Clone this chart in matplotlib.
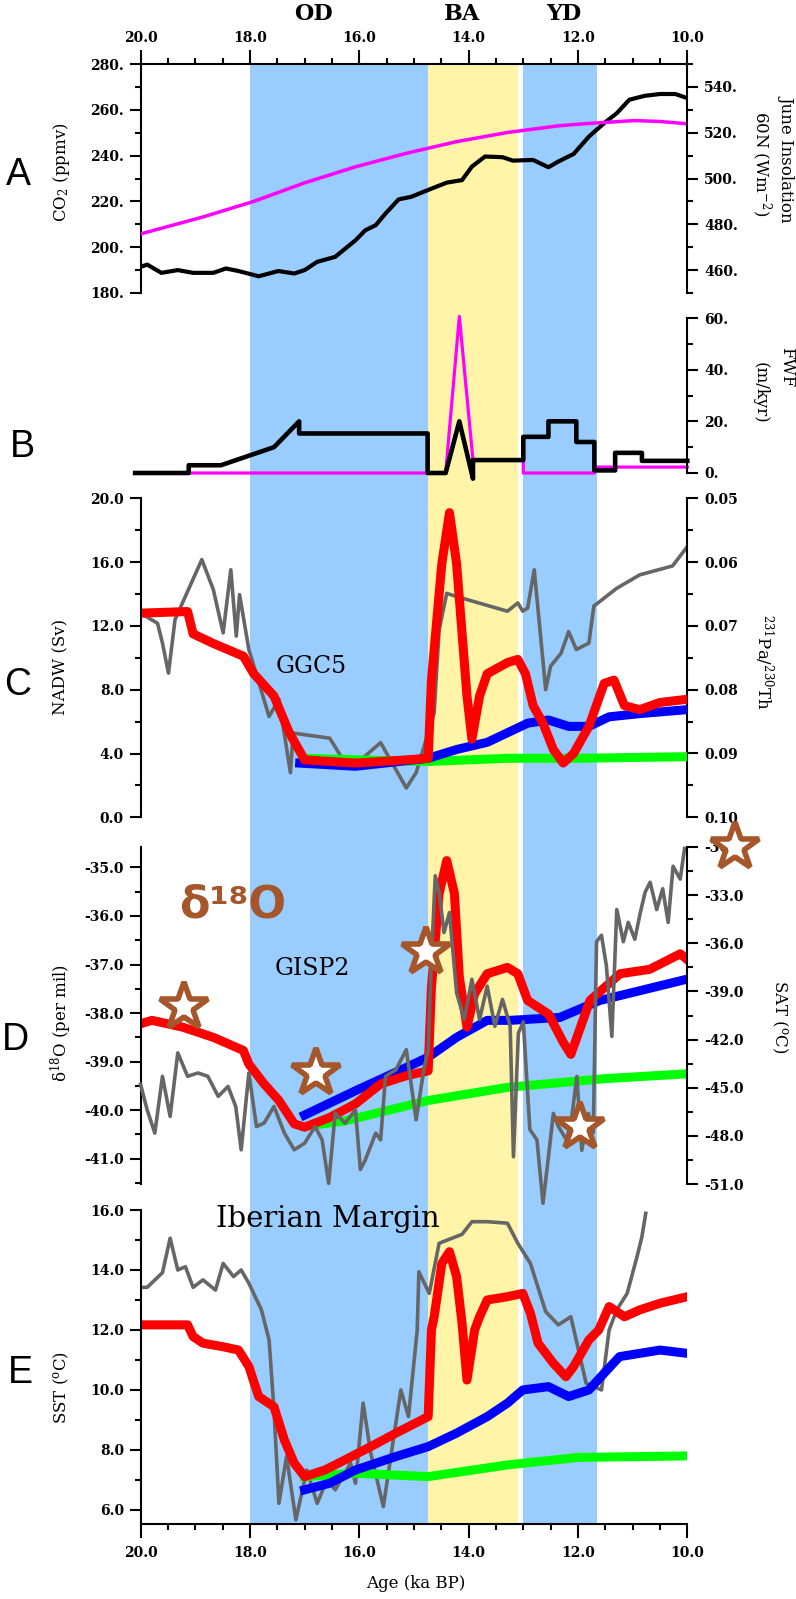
import matplotlib
matplotlib.use("Agg")
import matplotlib.pyplot as plt
from matplotlib.ticker import MultipleLocator, FormatStrFormatter, FuncFormatter

# ---- panel A: CO2 and June insolation 60N ----
co2_age = [20.0, 19.88, 19.62, 19.32, 19.04, 18.67, 18.44, 18.21, 17.84, 17.48, 17.19, 17.0, 16.77,
           16.44, 16.07, 15.89, 15.70, 15.52, 15.28, 15.05, 14.74, 14.40, 14.12, 13.94, 13.70, 13.38,
           13.19, 12.82, 12.54, 12.36, 12.08, 11.80, 11.52, 11.29, 11.06, 10.78, 10.50, 10.22, 10.0]
co2_val = [191.4, 192.4, 188.8, 190.0, 188.8, 188.8, 190.7, 189.6, 187.3, 189.6, 188.5, 190.0, 193.6,
           195.8, 203.0, 207.4, 209.6, 214.7, 220.9, 222.0, 225.0, 228.2, 229.3, 235.2, 239.6, 239.3,
           237.8, 238.1, 234.9, 237.4, 240.7, 248.3, 254.2, 258.5, 264.4, 266.1, 266.9, 266.9, 265.1]
ins_age = [20.0, 18.86, 17.93, 17.0, 16.07, 15.14, 14.22, 13.29, 12.36, 11.89, 10.97, 10.5, 10.0]
ins_val = [475.8, 483.2, 490.0, 498.1, 505.1, 511.0, 516.1, 520.1, 523.0, 523.9, 525.3, 524.9, 523.9]

# ---- panel B: freshwater forcing ----
fwf_age = [20.1, 19.12, 19.12, 18.53, 17.56, 17.1, 17.1, 14.75, 14.75, 14.42, 14.17, 13.92, 13.92,
           13.0, 13.0, 12.54, 12.54, 12.03, 12.03, 11.7, 11.7, 11.32, 11.32, 10.83, 10.83, 10.0]
fwf_val = [0, 0, 3, 3, 10, 20, 15.3, 15.3, 0, 0, 20, -2.2, 5, 5, 14, 14, 20, 20, 12, 12, 1, 1,
           7.8, 7.8, 4.7, 4.7]
mwp_age = [19.12, 14.42, 14.17, 13.92, 13.0, 13.0, 11.7, 11.7, 10.0]
mwp_val = [0, 0, 60.6, 5, 5, 0, 0, 2.3, 2.3]

# ---- panel C: NADW and Pa/Th (GGC5) ----
c_red_age = [20.0, 19.14, 19.04, 18.67, 18.12, 17.93, 17.56, 17.28, 17.0, 16.54, 16.07, 15.14, 14.74,
             14.68, 14.49, 14.35, 14.22, 14.03, 13.94, 13.80, 13.66, 13.29, 13.10, 12.96, 12.82, 12.64,
             12.45, 12.27, 12.08, 11.80, 11.52, 11.34, 11.15, 10.87, 10.50, 10.0]
c_red_val = [12.8, 12.9, 11.5, 10.9, 10.1, 9.0, 7.6, 5.3, 3.6, 3.5, 3.4, 3.6, 3.7,
             8.6, 15.9, 19.1, 15.9, 7.6, 4.9, 7.6, 9.0, 9.7, 9.9, 9.0, 7.0, 5.9,
             4.25, 3.4, 4.0, 5.7, 8.4, 8.6, 7.0, 6.75, 7.2, 7.4]
c_blue_age = [17.09, 16.07, 14.74, 14.22, 13.66, 13.29, 12.92, 12.54, 12.17, 11.80, 11.43, 10.87, 10.0]
c_blue_val = [3.4, 3.2, 3.7, 4.25, 4.7, 5.3, 5.9, 6.1, 5.7, 5.7, 6.3, 6.5, 6.75]
c_green_age = [17.0, 16.0, 14.74, 13.29, 12.0, 10.0]
c_green_val = [3.7, 3.6, 3.5, 3.7, 3.7, 3.8]
c_gray_age = [20.0, 19.69, 19.60, 19.49, 19.37, 18.88, 18.67, 18.49, 18.35, 18.25, 18.19, 18.02, 17.65,
              17.47, 17.26, 17.21, 16.54, 16.26, 16.07, 15.61, 15.14, 14.96, 14.74, 14.63, 14.54, 14.40,
              14.22, 13.29, 13.10, 13.01, 12.92, 12.80, 12.59, 12.50, 12.31, 12.17, 12.03, 11.80, 11.71,
              11.29, 10.87, 10.27, 10.02]
c_gray_val = [0.068, 0.0696, 0.0727, 0.0774, 0.069, 0.0596, 0.0643, 0.0711, 0.0612, 0.0716, 0.0651,
              0.0737, 0.0842, 0.0815, 0.093, 0.0868, 0.0876, 0.0915, 0.0917, 0.0883, 0.0954, 0.093,
              0.0868, 0.0836, 0.0706, 0.0649, 0.0654, 0.0677, 0.0664, 0.0677, 0.0672, 0.0612, 0.080,
              0.0763, 0.0743, 0.0709, 0.0737, 0.0727, 0.0669, 0.0641, 0.062, 0.0606, 0.0578]

# ---- panel D: Greenland d18O and SAT (GISP2) ----
d_red_age = [20.0, 19.79, 19.23, 18.67, 18.12, 18.02, 17.74, 17.47, 17.19, 17.0, 16.54, 16.07, 15.61,
             15.14, 14.74, 14.68, 14.54, 14.40, 14.26, 14.17, 14.03, 13.89, 13.66, 13.29, 13.10, 12.92,
             12.54, 12.27, 12.13, 11.78, 11.23, 10.69, 10.13, 10.0]
d_red_val = [-38.22, -38.15, -38.29, -38.5, -38.77, -39.05, -39.46, -39.8, -40.28, -40.35, -40.15,
             -39.87, -39.46, -39.29, -39.19, -37.47, -35.54, -34.86, -35.54, -37.26, -38.29, -37.6,
             -37.19, -37.06, -37.19, -37.74, -38.02, -38.6, -38.85, -37.74, -37.19, -37.1, -36.78, -36.9]
d_blue_age = [17.0, 16.07, 15.14, 14.74, 14.22, 13.66, 13.24, 12.33, 11.6, 10.87, 10.0]
d_blue_val = [-40.1, -39.6, -39.12, -38.91, -38.5, -38.15, -38.15, -38.09, -37.74, -37.54, -37.3]
d_green_age = [16.8, 16.26, 14.74, 13.29, 11.5, 10.0]
d_green_val = [-40.3, -40.22, -39.8, -39.53, -39.35, -39.25]
d_gray_age = [20.0, 19.88, 19.74, 19.60, 19.46, 19.32, 19.14, 18.95, 18.77, 18.58, 18.40, 18.26, 18.16,
              18.02, 17.88, 17.74, 17.56, 17.37, 17.19, 17.0, 16.81, 16.68, 16.56, 16.44, 16.26, 16.07,
              15.98, 15.89, 15.70, 15.61, 15.52, 15.33, 15.14, 14.96, 14.82, 14.74, 14.68, 14.61, 14.54,
              14.45, 14.35, 14.22, 14.08, 13.94, 13.80, 13.66, 13.52, 13.38, 13.24, 13.18, 13.09, 13.0,
              12.88, 12.75, 12.64, 12.54, 12.45, 12.36, 12.21, 12.12, 12.02, 11.93, 11.81, 11.72, 11.66,
              11.57, 11.48, 11.38, 11.29, 11.17, 11.08, 10.96, 10.86, 10.77, 10.68, 10.56, 10.45, 10.35,
              10.26, 10.13, 10.05]
d_gray_val = [-44.8, -46.38, -47.83, -44.29, -46.79, -42.83, -44.29, -44.08, -44.29, -45.54, -44.92,
              -46.17, -48.87, -44.08, -47.42, -47.2, -46.17, -47.83, -48.87, -48.46, -47.42, -48.25,
              -50.96, -46.58, -47.21, -46.38, -50.1, -49.5, -47.83, -48.25, -44.29, -43.88, -42.63,
              -47.0, -43.88, -42.64, -37.0, -31.79, -32.83, -35.33, -34.08, -39.08, -40.75, -38.25,
              -40.75, -38.67, -41.17, -39.5, -41.17, -49.3, -41.6, -40.9, -47.6, -48.25, -52.2, -49.3,
              -46.6, -47.4, -48.25, -47.0, -44.3, -48.9, -46.6, -47.8, -35.9, -35.5, -37.4, -41.8,
              -33.9, -35.9, -34.7, -35.75, -34.1, -32.8, -32.2, -33.9, -32.6, -34.7, -31.2, -32.0, -30.1]
star_age = [19.21, 16.79, 14.78, 11.96, 9.13]
star_sat = [-39.94, -44.06, -36.56, -47.44, -30.0]

# ---- panel E: Iberian Margin SST ----
e_red_age = [20.0, 19.14, 19.04, 18.86, 18.49, 18.21, 18.02, 17.84, 17.56, 17.37, 17.19, 17.0, 16.63,
             16.26, 15.79, 15.33, 14.74, 14.68, 14.63, 14.49, 14.35, 14.22, 14.12, 14.03, 13.89, 13.80,
             13.66, 13.29, 13.01, 12.87, 12.73, 12.45, 12.22, 12.08, 11.80, 11.62, 11.43, 11.15, 10.87,
             10.50, 10.0]
e_red_val = [12.17, 12.17, 11.78, 11.56, 11.44, 11.33, 10.78, 9.78, 9.44, 8.33, 7.56, 7.11, 7.33,
             7.67, 8.11, 8.56, 9.11, 12.0, 12.44, 14.22, 14.61, 13.78, 12.22, 10.33, 12.0, 12.44,
             13.0, 13.11, 13.22, 12.56, 11.56, 10.89, 10.44, 10.78, 11.67, 12.0, 12.78, 12.44, 12.67,
             12.89, 13.11]
e_blue_age = [17.0, 16.54, 16.07, 15.33, 14.74, 14.22, 13.66, 13.29, 13.01, 12.54, 12.17, 11.80, 11.52,
              11.24, 10.87, 10.50, 10.0]
e_blue_val = [6.67, 6.89, 7.33, 7.78, 8.11, 8.56, 9.11, 9.56, 10.0, 10.11, 9.78, 10.0, 10.56, 11.11,
              11.22, 11.33, 11.22]
e_green_age = [17.0, 16.07, 14.74, 13.29, 12.0, 10.0]
e_green_val = [7.11, 7.22, 7.11, 7.5, 7.75, 7.8]
e_gray_age = [20.0, 19.88, 19.60, 19.46, 19.32, 19.18, 19.04, 18.86, 18.63, 18.49, 18.30, 18.16, 18.02,
              17.79, 17.65, 17.56, 17.47, 17.33, 17.16, 16.96, 16.77, 16.59, 16.44, 16.16, 16.07, 15.93,
              15.79, 15.56, 15.24, 15.10, 14.94, 14.91, 14.72, 14.54, 14.12, 13.94, 13.66, 13.29, 13.10,
              12.87, 12.59, 12.36, 12.13, 11.99, 11.85, 11.57, 11.43, 11.29, 11.10, 10.92, 10.83, 10.76]
e_gray_val = [13.42, 13.42, 13.91, 15.06, 14.0, 14.11, 13.42, 13.67, 13.33, 14.22, 13.78, 14.0, 13.56,
              12.67, 11.67, 9.33, 6.22, 7.78, 5.67, 7.33, 6.22, 7.0, 6.67, 7.56, 6.89, 9.56,
              7.89, 6.11, 10.0, 9.11, 12.0, 13.94, 13.22, 14.89, 15.19, 15.61, 15.61, 15.56, 14.89,
              14.22, 12.61, 12.17, 12.44, 11.33, 10.22, 10.0, 12.0, 12.67, 13.22, 14.44, 15.11, 15.89]

# periods: OD, BA, YD
periods = ["OD", "BA", "YD"]
period_start = [18.0, 14.75, 13.0]
period_end = [14.75, 13.1, 11.65]
period_color = ["#99CCFF", "#FFF4A8", "#99CCFF"]
period_label_x = [313, 462, 564]

RED, BLUE, GREEN, GRAY, MAG = "#FF0000", "#0000FF", "#00FF00", "#666666", "#FF00FF"
BROWN = "#A5562A"
NOISY = 6.5

plt.rcParams["font.family"] = "DejaVu Serif"
plt.rcParams["font.weight"] = "bold"
plt.rcParams["font.size"] = 10
plt.rcParams["mathtext.fontset"] = "dejavuserif"
plt.rcParams["mathtext.default"] = "regular"

W, H = 796.0, 1599.0
L, R = 140.6, 687.3


def rect(top, bot):
    return [L / W, 1 - bot / H, (R - L) / W, (bot - top) / H]


def spines(ax, keep):
    for s in ["left", "right", "top", "bottom"]:
        ax.spines[s].set_visible(s in keep)
        ax.spines[s].set_linewidth(1.5)
    ax.tick_params(which="major", length=8, width=1.5, direction="out", pad=4)
    ax.tick_params(which="minor", length=4.5, width=1.5, direction="out")


def no_x(ax):
    ax.tick_params(axis="x", which="both", bottom=False, top=False, labelbottom=False, labeltop=False)


def ylocs(ax, major, minor, fmt):
    ax.yaxis.set_major_locator(MultipleLocator(major))
    ax.yaxis.set_minor_locator(MultipleLocator(minor))
    if isinstance(fmt, str):
        ax.yaxis.set_major_formatter(FormatStrFormatter(fmt))
    else:
        ax.yaxis.set_major_formatter(FuncFormatter(fmt))


def xlocs(ax):
    ax.set_xlim(20, 10)
    ax.xaxis.set_major_locator(MultipleLocator(2))
    ax.xaxis.set_minor_locator(MultipleLocator(0.5))
    ax.xaxis.set_major_formatter(FormatStrFormatter("%.1f"))


def px(x, y):
    return x / W, 1 - y / H


fig = plt.figure(figsize=(7.96, 15.99), dpi=100)

# background bands across all panels
bg = fig.add_axes(rect(64, 1524))
bg.set_xlim(20, 10)
bg.set_ylim(0, 1)
bg.axis("off")
for a, b, c in zip(period_start, period_end, period_color):
    bg.axvspan(a, b, color=c, lw=0)

# A
axA = fig.add_axes(rect(64, 293))
axA.set_facecolor("none")
axA.plot(co2_age, co2_val, color="black", lw=3)
xlocs(axA)
axA.set_ylim(180, 280)
axA.xaxis.tick_top()
ylocs(axA, 20, 10, lambda v, p: f"{v:.0f}.")
spines(axA, ["left", "top"])
axA.tick_params(axis="x", which="major", length=10)
axA2 = axA.twinx()
axA2.plot(ins_age, ins_val, color=MAG, lw=2.5)
axA2.set_ylim(450, 550)
ylocs(axA2, 20, 10, lambda v, p: f"{v:.0f}.")
spines(axA2, ["right"])

# B
axB = fig.add_axes(rect(318, 473))
axB.set_facecolor("none")
axB.plot(mwp_age, mwp_val, color=MAG, lw=2.3, clip_on=False)
axB.plot(fwf_age, fwf_val, color="black", lw=3.3, clip_on=False)
axB.set_xlim(20, 10)
axB.set_ylim(0, 60)
axB.yaxis.tick_right()
ylocs(axB, 20, 10, lambda v, p: f"{v:.0f}.")
spines(axB, ["right"])
no_x(axB)

# C
axC = fig.add_axes(rect(498.3, 817.3))
axC2 = axC.twinx()
axC2.plot(c_gray_age, c_gray_val, color=GRAY, lw=2.6)
axC2.set_ylim(0.10, 0.05)
ylocs(axC2, 0.01, 0.005, "%.2f")
spines(axC2, ["right"])
axC.plot(c_green_age, c_green_val, color=GREEN, lw=NOISY)
axC.plot(c_blue_age, c_blue_val, color=BLUE, lw=NOISY)
axC.plot(c_red_age, c_red_val, color=RED, lw=NOISY)
axC.set_xlim(20, 10)
axC.set_ylim(0, 20)
ylocs(axC, 4, 2, "%.1f")
spines(axC, ["left"])
no_x(axC)
axC.set_zorder(axC2.get_zorder() + 1)
axC.patch.set_visible(False)
axC.text(16.88, 9.46, "GGC5", ha="center", va="center", fontsize=17, fontweight="normal")

# D
axD = fig.add_axes(rect(847, 1184))
axD.set_facecolor("none")
axD.plot(d_green_age, d_green_val, color=GREEN, lw=NOISY)
axD.plot(d_blue_age, d_blue_val, color=BLUE, lw=NOISY)
axD.plot(d_red_age, d_red_val, color=RED, lw=NOISY)
axD.set_xlim(20, 10)
axD.set_ylim(-41.52, -34.58)
ylocs(axD, 1, 0.5, "%.1f")
spines(axD, ["left"])
no_x(axD)
axD.text(16.86, -37.08, "GISP2", ha="center", va="center", fontsize=17, fontweight="normal")
axD.text(18.31, -35.78, "δ¹⁸O", ha="center", va="center", fontsize=32, color=BROWN,
         family="DejaVu Sans", fontweight="bold")
axD2 = axD.twinx()
axD2.plot(d_gray_age, d_gray_val, color=GRAY, lw=2.6, clip_on=False)
axD2.plot(star_age, star_sat, ls="none", marker="*", ms=36, mfc="white", mec=BROWN, mew=4,
          clip_on=False)
axD2.set_ylim(-51, -30)
ylocs(axD2, 3, 1.5, "%.1f")
spines(axD2, ["right"])

# E
axE = fig.add_axes(rect(1210, 1524))
axE.set_facecolor("none")
axE.plot(e_gray_age, e_gray_val, color=GRAY, lw=2.6)
axE.plot(e_green_age, e_green_val, color=GREEN, lw=NOISY)
axE.plot(e_blue_age, e_blue_val, color=BLUE, lw=NOISY)
axE.plot(e_red_age, e_red_val, color=RED, lw=NOISY)
xlocs(axE)
axE.set_ylim(5.53, 16.0)
ylocs(axE, 2, 1, "%.1f")
spines(axE, ["left", "bottom"])
axE.tick_params(axis="x", which="major", length=10, pad=6)
axE.text(16.57, 15.7, "Iberian Margin", ha="center", va="center", fontsize=21, fontweight="normal")

# period names on top
for name, x in zip(periods, period_label_x):
    fig.text(*px(x, 14), name, ha="center", va="center", fontsize=16)

# panel letters
for letter, (x, y) in zip("ABCDE", [(18, 175), (22, 447), (18, 685), (15, 1040), (20, 1373)]):
    fig.text(*px(x, y), letter, ha="center", va="center", fontsize=27, family="Liberation Sans",
             fontweight="normal")

# axis titles
lab = dict(ha="center", va="center", fontsize=12, fontweight="normal")
fig.text(*px(61, 172), r"CO$_2$ (ppmv)", rotation=90, **lab)
fig.text(*px(787, 158), "June Insolation", rotation=270, **lab)
fig.text(*px(761, 164), r"60N (Wm$^{-2}$)", rotation=270, **lab)
fig.text(*px(787, 367), "FWF", rotation=270, **lab)
fig.text(*px(760, 393), "(m/kyr)", rotation=270, **lab)
fig.text(*px(61, 667), "NADW (Sv)", rotation=90, **lab)
fig.text(*px(764, 662), r"$^{231}$Pa/$^{230}$Th", rotation=270, **lab)
fig.text(*px(61, 1023), r"δ$^{18}$O (per mil)", rotation=90, **lab)
fig.text(*px(780, 1017), r"SAT ($^{o}$C)", rotation=270, **lab)
fig.text(*px(61, 1387), r"SST ($^{o}$C)", rotation=90, **lab)
fig.text(*px(416, 1583), "Age (ka BP)", **lab)

fig.savefig("out.png", dpi=100)
